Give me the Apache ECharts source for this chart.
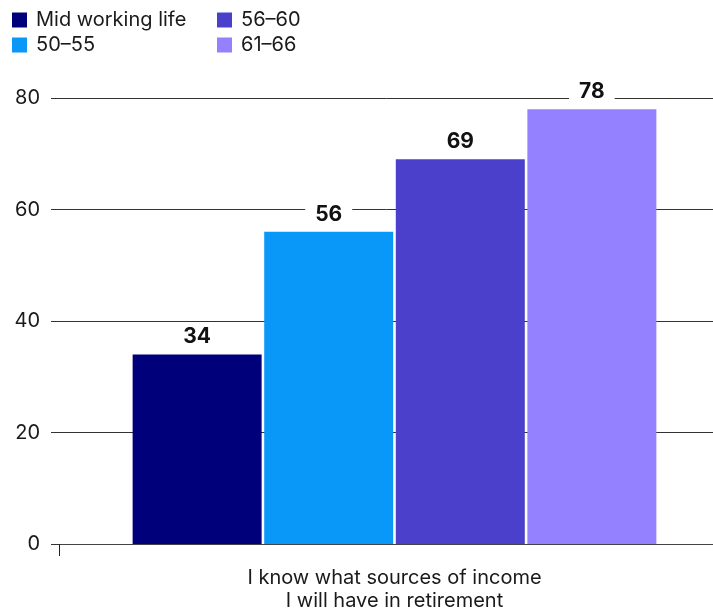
<!DOCTYPE html>
<html>
<head>
<meta charset="utf-8">
<script src="https://cdn.jsdelivr.net/npm/echarts@6/dist/echarts.min.js"></script>
<style>
  html, body { margin: 0; padding: 0; background: #fff; }
  #chart { width: 713px; height: 616px; }
</style>
</head>
<body>
<div id="chart"></div>
<script>
// Share of respondents agreeing, by life stage
const categories = ['I know what sources of income\nI will have in retirement'];
const seriesNames = ['Mid working life', '50–55', '56–60', '61–66'];
const seriesValues = [[34], [56], [69], [78]];
const seriesColors = ['#00007a', '#0a98f8', '#4a40cb', '#9381ff'];
const yTicks = [0, 20, 40, 60, 80];

const font = 'Inter, "Noto Sans", sans-serif';
const ink = '#1a1a1a';

const chart = echarts.init(document.getElementById('chart'), null, { renderer: 'canvas' });

const legendBase = {
  orient: 'vertical',
  top: 5,
  icon: 'rect',
  itemWidth: 15,
  itemHeight: 15,
  itemGap: 5,
  textStyle: { fontFamily: font, fontSize: 20, color: ink, padding: [0, 0, 0, 4] }
};

chart.setOption({
  animation: false,
  textStyle: { fontFamily: font },
  legend: [
    Object.assign({ left: 7, data: seriesNames.slice(0, 2) }, legendBase),
    Object.assign({ left: 212, data: seriesNames.slice(2, 4) }, legendBase)
  ],
  // the plot runs a little past the right edge of the canvas
  grid: { left: 59, width: 671, top: 98, bottom: 72, containLabel: false, outerBoundsMode: 'none' },
  xAxis: {
    type: 'category',
    data: categories,
    axisLine: { lineStyle: { color: '#444', width: 1 } },
    axisTick: { show: true, length: 12, lineStyle: { color: '#222' } },
    axisLabel: { fontFamily: font, fontSize: 20, color: ink, lineHeight: 23, margin: 22 }
  },
  yAxis: {
    type: 'value',
    min: yTicks[0],
    max: yTicks[yTicks.length - 1],
    interval: 20,
    axisLine: { show: false },
    axisTick: { show: true, length: 8, lineStyle: { color: '#333', width: 1 } },
    axisLabel: { fontFamily: font, fontSize: 20, color: ink, margin: 19 },
    splitLine: { lineStyle: { color: '#333', width: 1 } }
  },
  series: seriesNames.map((name, i) => ({
    name: name,
    type: 'bar',
    data: seriesValues[i],
    barWidth: 129,
    barGap: '2%',
    itemStyle: { color: seriesColors[i] },
    label: {
      show: true,
      position: 'top',
      distance: 5,
      fontFamily: font,
      fontSize: 21,
      fontWeight: 'bold',
      color: '#111',
      backgroundColor: '#fff',
      padding: [2, 10]
    }
  }))
});
</script>
</body>
</html>
